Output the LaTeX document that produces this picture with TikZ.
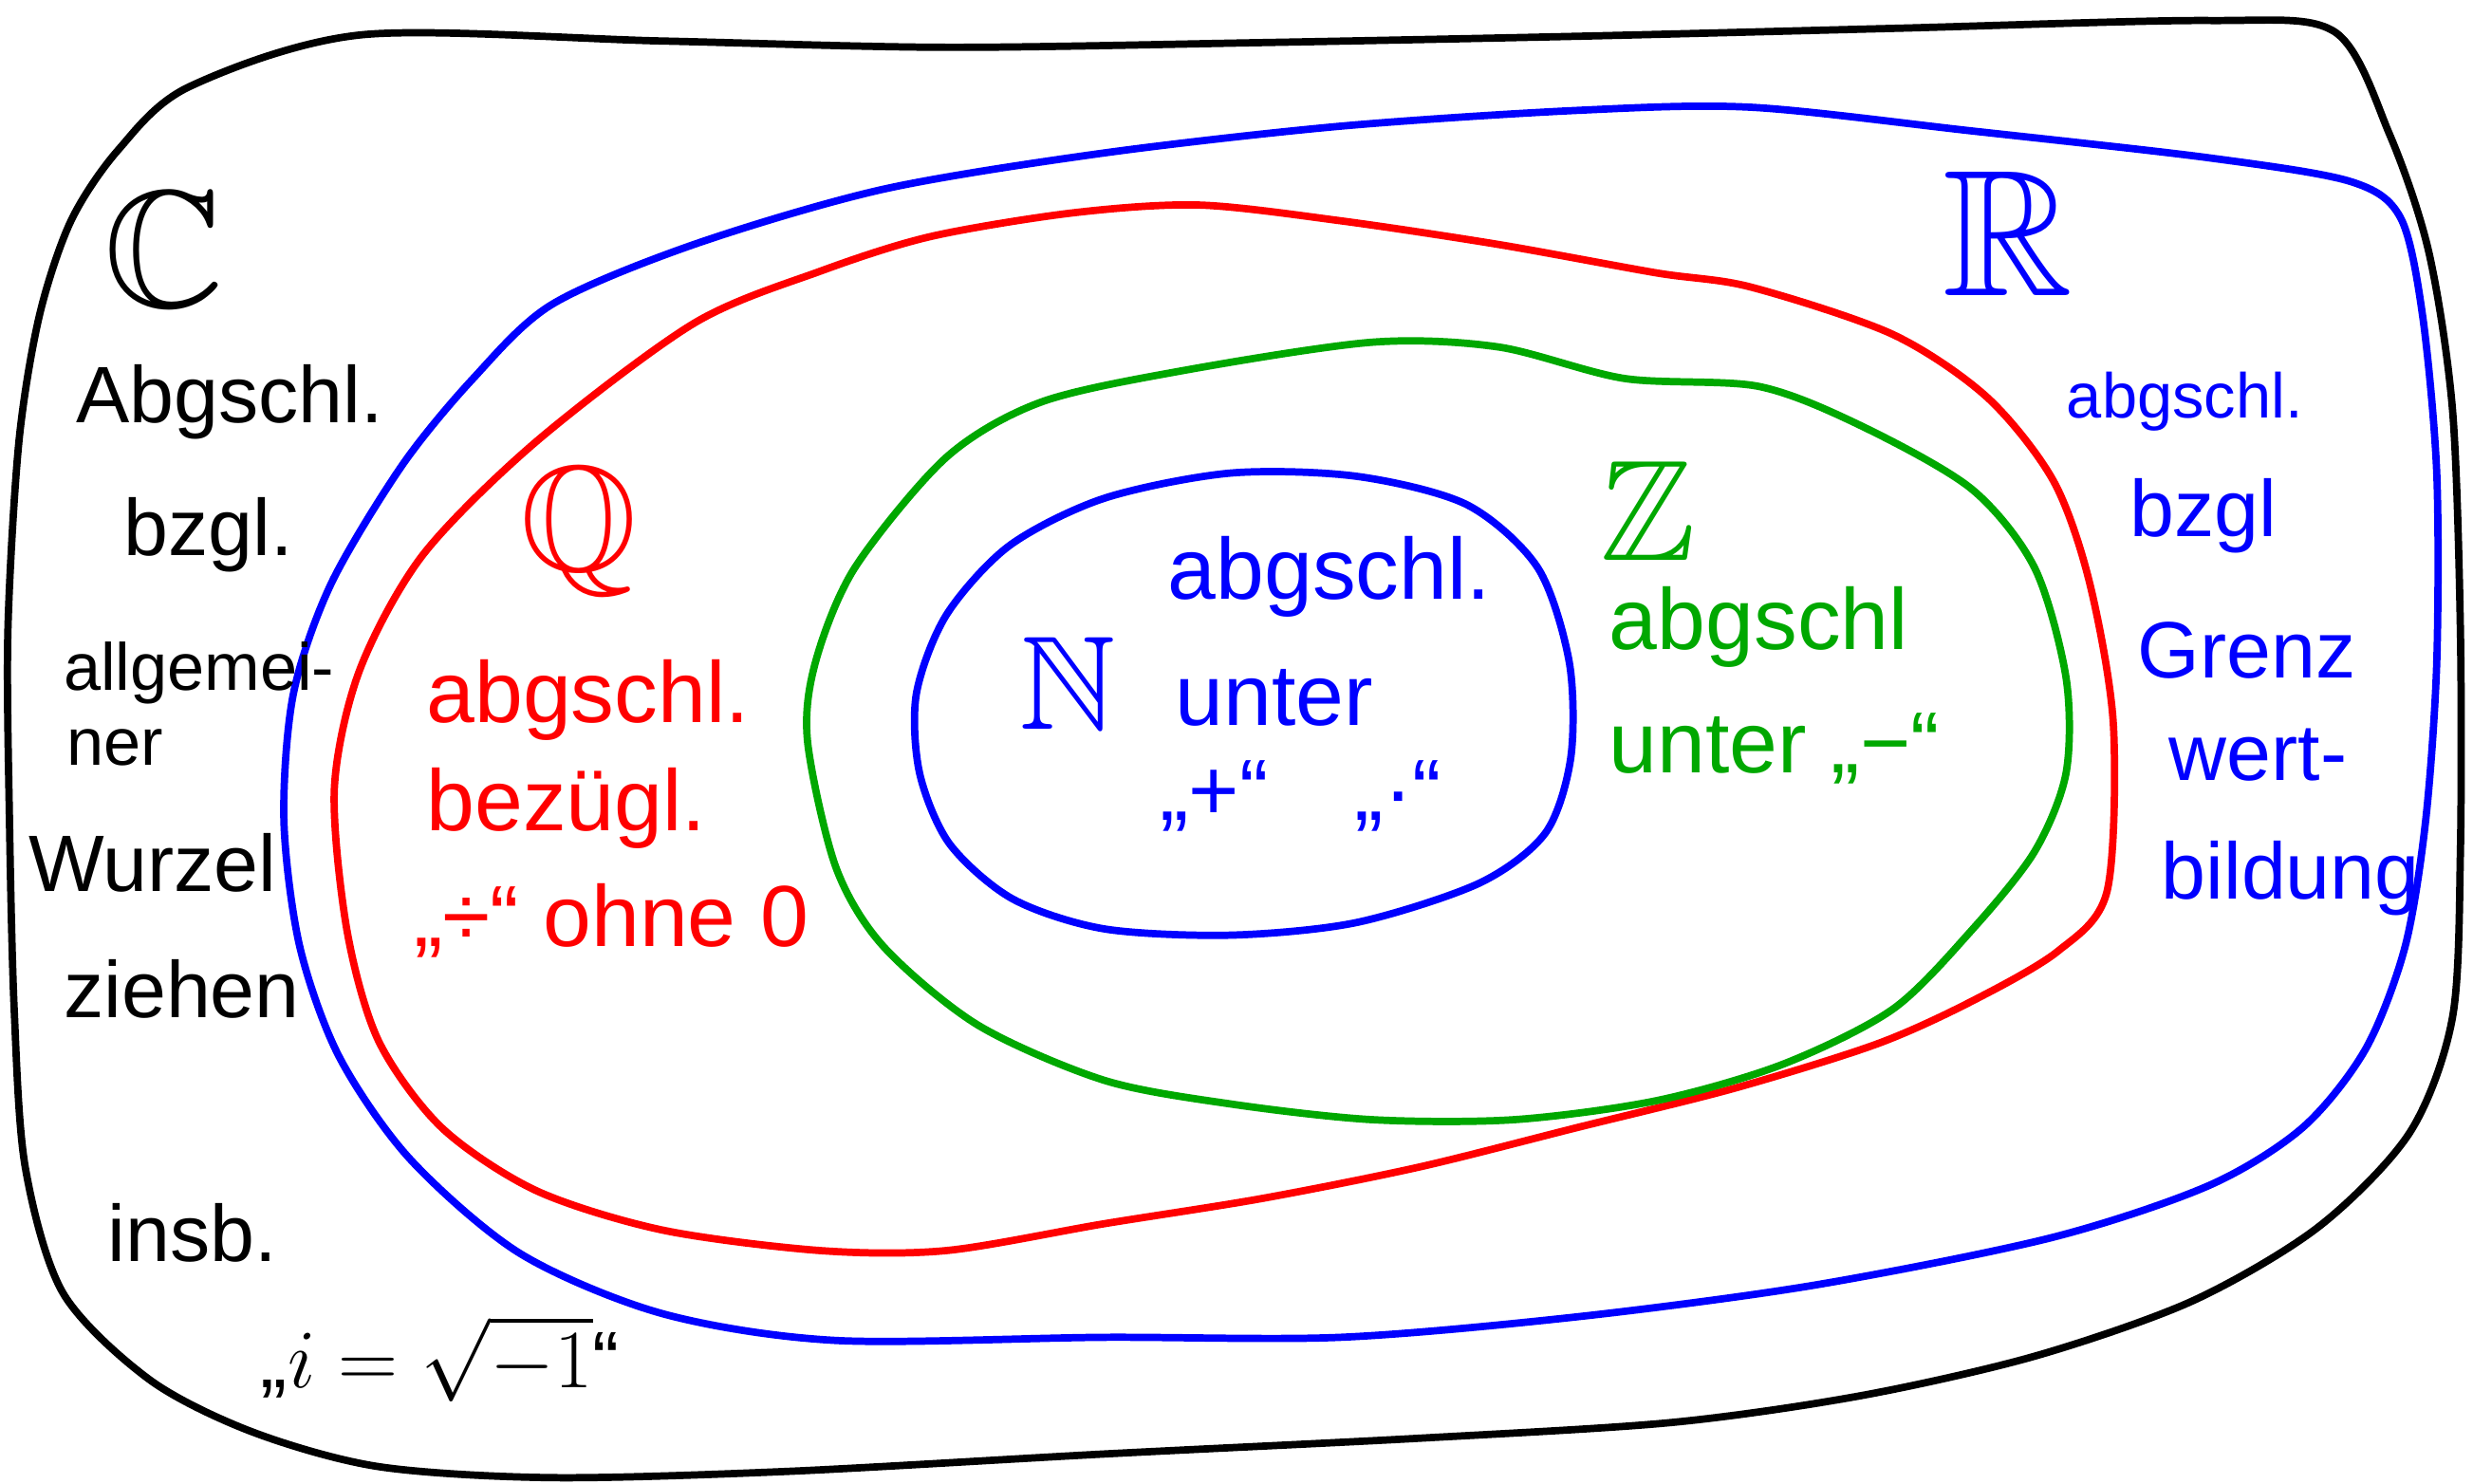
\documentclass[tikz,border=0pt]{standalone}
\usepackage{amssymb}
\usepackage{fontspec}
\setmainfont{Liberation Sans}
\definecolor{setblue}{RGB}{0,0,255}
\definecolor{setred}{RGB}{255,0,0}
\definecolor{setgreen}{RGB}{0,168,0}

\begin{document}
\begin{tikzpicture}[x=0.01662cm,y=-0.01662cm,
  rand/.style={line width=2.2pt,line join=round,line cap=round},
  txt/.style={anchor=base west,inner sep=0pt,font=\fontsize{#1}{#1}\selectfont},
  sym/.style={inner sep=0pt,font=\fontsize{#1}{#1}\selectfont}]
  \useasboundingbox (0,0) rectangle (1568,941);
  % C
  \draw[rand,black] plot[smooth cycle] coordinates {(230,22) (120,55) (75,95) (45,140) (25,200) (12,280)
    (5,400) (6,520) (9,640) (16,740) (40,820) (95,875) (160,908) (240,930) (350,937) (500,933)
    (700,922) (900,912) (1060,902) (1180,885) (1290,860) (1390,825) (1470,778) (1528,718)
    (1555,645) (1560,540) (1560,400) (1555,260) (1540,160) (1515,85) (1480,20) (1400,13)
    (1200,18) (1000,23) (800,27) (600,30) (420,26)};
  % R
  \draw[rand,setblue] plot[smooth cycle] coordinates {(350,193) (440,155) (560,120) (700,97) (850,80)
    (1000,70) (1110,68) (1250,83) (1400,100) (1490,115) (1522,138) (1536,200) (1545,300)
    (1545,420) (1538,520) (1525,600) (1500,665) (1460,715) (1400,752) (1300,785) (1150,815)
    (1000,835) (850,848) (700,848) (530,850) (420,833) (330,795) (260,735) (215,670)
    (190,600) (180,520) (186,440) (210,370) (255,295) (300,240)};
  % Q
  \draw[rand,setred] plot[smooth cycle] coordinates {(590,150) (680,135) (760,130) (850,140) (950,155)
    (1050,173) (1110,182) (1200,212) (1260,252) (1302,305) (1325,370) (1340,460) (1336,565)
    (1305,603) (1250,635) (1190,662) (1100,690) (1000,715) (900,740) (800,760) (700,776)
    (600,793) (520,793) (420,780) (340,755) (280,715) (240,660) (220,590) (212,500)
    (228,425) (268,352) (340,280) (440,205) (520,172)};
  % Z
  \draw[rand,setgreen] plot[smooth cycle] coordinates {(750,235) (870,217) (950,220) (1030,240) (1115,245)
    (1180,270) (1250,310) (1290,360) (1310,430) (1310,490) (1290,540) (1250,590) (1200,640)
    (1130,675) (1050,698) (960,710) (870,710) (780,700) (700,685) (620,650) (560,600)
    (530,550) (512,470) (517,420) (542,360) (600,290) (660,255)};
  % N
  \draw[rand,setblue] plot[smooth cycle] coordinates {(860,302) (780,300) (700,316) (640,346) (600,390)
    (581,440) (583,490) (602,535) (642,570) (700,589) (780,593) (860,585) (938,560)
    (980,528) (996,480) (995,420) (975,360) (930,320)};

  % set symbols
  \node[sym=50] (symC) at (104,158) {$\mathbb{C}$};
  \node[sym=54,setblue] (symR) at (1273,148) {$\mathbb{R}$};
  \node[sym=45,setred] (symQ) at (367,337) {$\mathbb{Q}$};
  \node[sym=43,setgreen] (symZ) at (1045,324) {$\mathbb{Z}$};
  \node[sym=40,setblue] (symN) at (677,433) {$\mathbb{N}$};

  % texts
  \foreach \n/\x/\y/\s/\t in {1/48/268/24/Abgschl., 2/78/352/24/bzgl., 3/40/438/20/allgemei-,
      4/42/485/20/ner, 5/18/565/24/Wurzel, 6/40/645/24/ziehen, 7/68/800/24/insb.}
    \node[txt=\s] (c\n) at (\x,\y) {\t};
  \node[txt=24] (c8) at (165,880) {„$i=\sqrt{-1}$“};
  \foreach \n/\x/\y/\s/\t in {1/1310/265/19/abgschl., 2/1350/340/24/bzgl, 3/1355/430/24/Grenz,
      4/1375/495/24/wert-, 5/1370/570/24/bildung}
    \node[txt=\s,setblue] (r\n) at (\x,\y) {\t};
  \foreach \n/\x/\y/\t in {1/270/458/abgschl., 2/270/527/bezügl., 3/262/600/„÷“ ohne 0}
    \node[txt=26,setred] (q\n) at (\x,\y) {\t};
  \foreach \n/\x/\y/\t in {1/1020/412/abgschl, 2/1020/490/unter „−“}
    \node[txt=26,setgreen] (z\n) at (\x,\y) {\t};
  \foreach \n/\x/\y/\t in {1/740/380/abgschl., 2/745/460/unter, 3/735/520/„+“\quad„·“}
    \node[txt=26,setblue] (n\n) at (\x,\y) {\t};
\end{tikzpicture}
\end{document}
